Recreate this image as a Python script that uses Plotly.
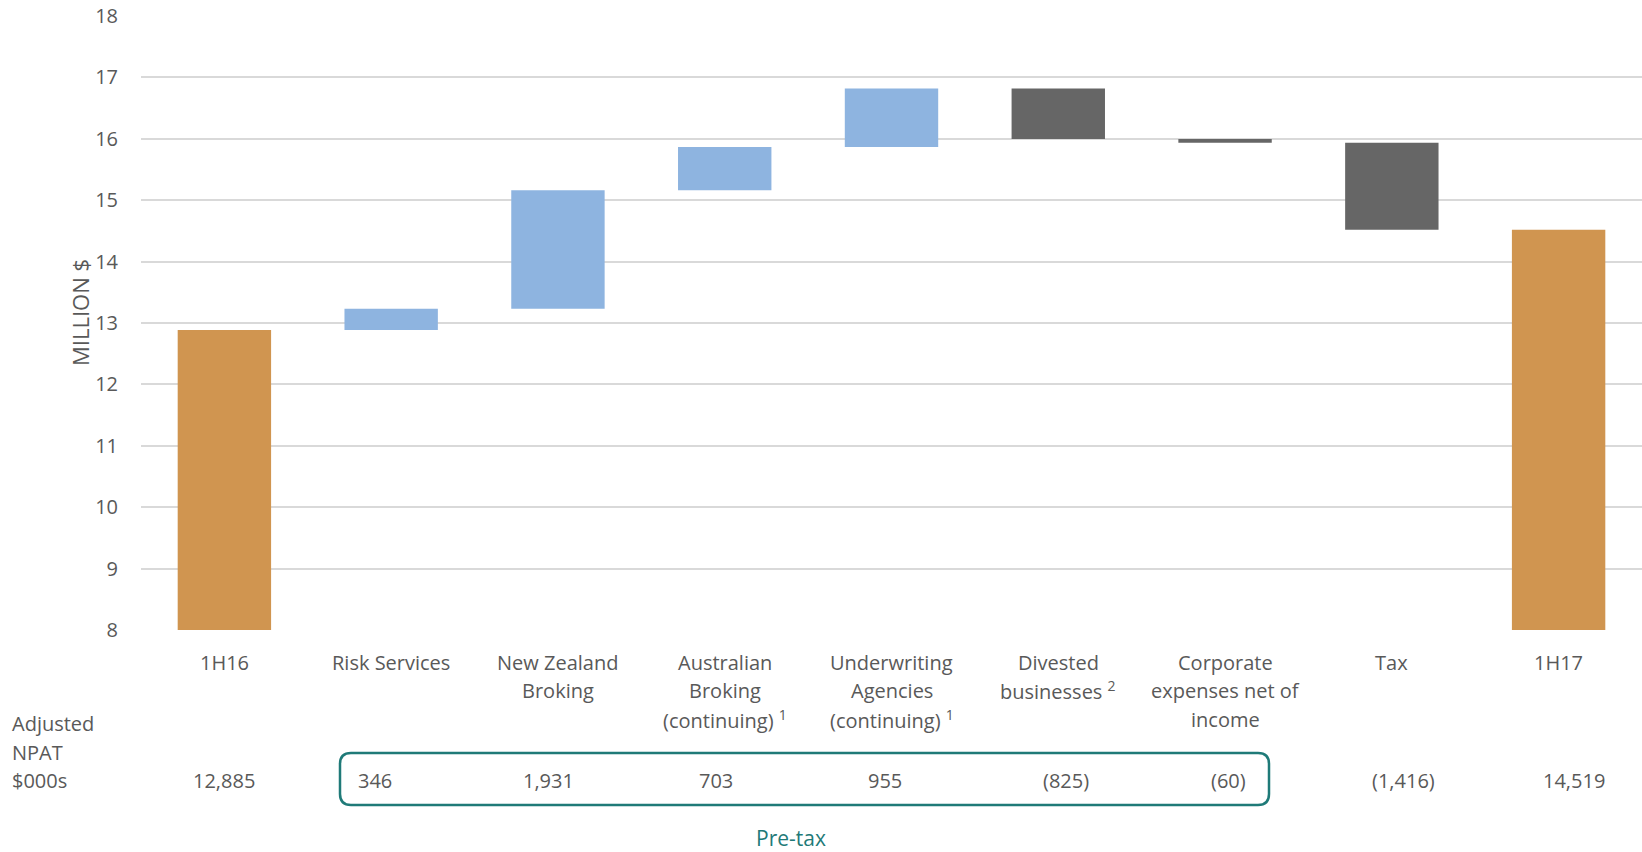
import plotly.graph_objects as go

# ---- data ----
categories = ["1H16", "Risk Services", "New Zealand Broking", "Australian Broking",
              "Underwriting Agencies", "Divested businesses", "Corporate expenses",
              "Tax", "1H17"]
label_lines = [
    ["1H16"],
    ["Risk Services"],
    ["New Zealand", "Broking"],
    ["Australian", "Broking", "(continuing) <sup>1</sup>"],
    ["Underwriting", "Agencies", "(continuing) <sup>1</sup>"],
    ["Divested", "businesses <sup>2</sup>"],
    ["Corporate", "expenses net of", "income"],
    ["Tax"],
    ["1H17"],
]
measures = ["absolute", "relative", "relative", "relative", "relative",
            "relative", "relative", "relative", "total"]
npat_000s = [12885, 346, 1931, 703, 955, -825, -60, -1416, 14519]
npat_text = ["12,885", "346", "1,931", "703", "955", "(825)", "(60)", "(1,416)", "14,519"]
y_ticks = [8, 9, 10, 11, 12, 13, 14, 15, 16, 17, 18]

# ---- layout constants ----
W, H = 1642, 852
L, R, T, B = 141, 0, 16, 222
plot_h = H - T - B
plot_w = W - L - R
FONT = "Open Sans"
GREY = "#595959"
TEAL = "#1F7A78"

def py(px):
    return (H - B - px) / plot_h

def pxx(px):
    return (px - L) / plot_w

y_vals = [v / 1000 for v in npat_000s]
y_vals[-1] = 0

fig = go.Figure()
fig.add_trace(go.Waterfall(
    x=categories,
    y=y_vals,
    measure=measures,
    width=0.56,
    increasing=dict(marker=dict(color="#8EB4E0")),
    decreasing=dict(marker=dict(color="#666666")),
    totals=dict(marker=dict(color="#D09550")),
    connector=dict(visible=False),
    showlegend=False,
    hoverinfo="skip",
))

ann = []
# category labels, line by line
for cat, lines in zip(categories, label_lines):
    for j, ln in enumerate(lines):
        ann.append(dict(x=cat, xref="x", y=py(662 + 28.5 * j), yref="paper",
                        text=ln, showarrow=False, xanchor="center", yanchor="middle",
                        font=dict(family=FONT, size=20, color=GREY)))
# value row
val_shift = [0, -16, -9, -9, -7, 8, 3, 12, 15]
for cat, txt, sh in zip(categories, npat_text, val_shift):
    ann.append(dict(x=cat, xref="x", y=py(781), yref="paper", xshift=sh,
                    text=txt, showarrow=False, xanchor="center", yanchor="middle",
                    font=dict(family=FONT, size=20, color=GREY)))
# row heading
for j, ln in enumerate(["Adjusted", "NPAT", "$000s"]):
    ann.append(dict(x=pxx(10), xref="paper", y=py(723.5 + 28.7 * j), yref="paper",
                    text=ln, showarrow=False, xanchor="left", yanchor="middle",
                    font=dict(family=FONT, size=20, color=GREY)))
# Pre-tax
ann.append(dict(x=pxx(791), xref="paper", y=py(838), yref="paper",
                text="Pre-tax", showarrow=False, xanchor="center", yanchor="middle",
                font=dict(family=FONT, size=21, color=TEAL)))
# axis title
ann.append(dict(x=pxx(80), xref="paper", y=py(313), yref="paper",
                text="MILLION $", textangle=-90, showarrow=False,
                xanchor="center", yanchor="middle",
                font=dict(family=FONT, size=22, color=GREY)))

# rounded box
x0, x1 = pxx(340), pxx(1269)
y0, y1 = py(805), py(753)
rx, ry = 11 / plot_w, 11 / plot_h
path = (f"M {x0+rx},{y1} L {x1-rx},{y1} Q {x1},{y1} {x1},{y1-ry} "
        f"L {x1},{y0+ry} Q {x1},{y0} {x1-rx},{y0} "
        f"L {x0+rx},{y0} Q {x0},{y0} {x0},{y0+ry} "
        f"L {x0},{y1-ry} Q {x0},{y1} {x0+rx},{y1} Z")

fig.update_layout(
    width=W, height=H,
    margin=dict(l=L, r=R, t=T, b=B, pad=0),
    paper_bgcolor="white", plot_bgcolor="white",
    font=dict(family=FONT, color=GREY),
    annotations=ann,
    shapes=[dict(type="path", path=path, xref="paper", yref="paper",
                 line=dict(color=TEAL, width=2.5))],
    xaxis=dict(showticklabels=False, showgrid=False, zeroline=False,
               showline=False, ticks=""),
    yaxis=dict(range=[8, 18], tickvals=y_ticks, showgrid=True,
               gridcolor="#D9D9D9", gridwidth=1.6, zeroline=False,
               showline=False, ticks="", ticklabelstandoff=22,
               tickfont=dict(family=FONT, size=20, color=GREY)),
)

fig.write_html("out.html")
